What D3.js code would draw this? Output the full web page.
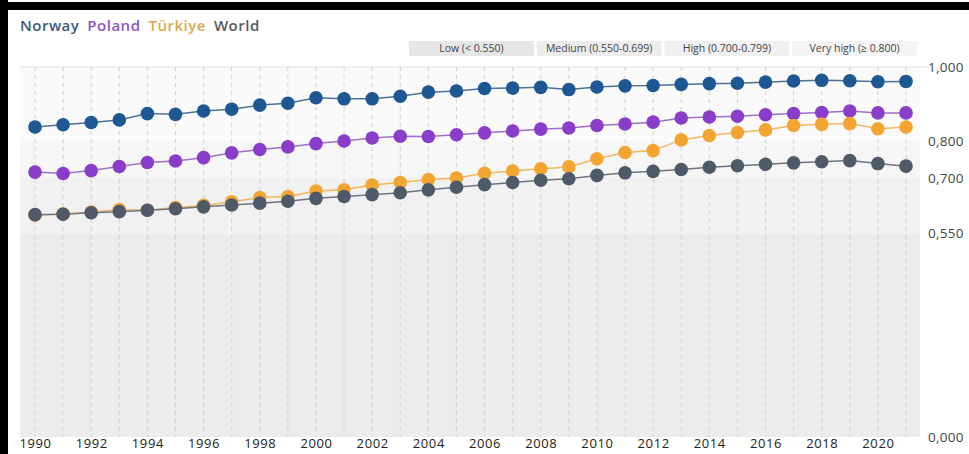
<!DOCTYPE html>
<html>
<head>
<meta charset="utf-8">
<script src="https://cdn.jsdelivr.net/npm/d3@7"></script>
<style>
  body { margin: 0; background: #fff; }
  svg { display: block; font-family: 'Open Sans', sans-serif; }
</style>
</head>
<body>
<div id="chart"></div>
<script>
const years = d3.range(1990, 2022);
const norway = [0.838, 0.844, 0.850, 0.857, 0.874, 0.872, 0.881, 0.886, 0.897, 0.902, 0.917, 0.914, 0.914, 0.921, 0.932, 0.935,
  0.942, 0.943, 0.945, 0.939, 0.946, 0.949, 0.950, 0.953, 0.955, 0.956, 0.959, 0.962, 0.964, 0.963, 0.960, 0.961];
const poland = [0.716, 0.712, 0.720, 0.731, 0.742, 0.746, 0.755, 0.768, 0.777, 0.784, 0.793, 0.800, 0.808, 0.813, 0.812, 0.817,
  0.822, 0.827, 0.832, 0.835, 0.842, 0.846, 0.851, 0.862, 0.865, 0.867, 0.871, 0.874, 0.877, 0.881, 0.876, 0.876];
const turkiye = [0.600, 0.603, 0.608, 0.615, 0.613, 0.620, 0.626, 0.636, 0.647, 0.650, 0.665, 0.668, 0.681, 0.688, 0.696, 0.700,
  0.713, 0.719, 0.725, 0.730, 0.752, 0.769, 0.774, 0.803, 0.815, 0.823, 0.830, 0.842, 0.845, 0.847, 0.833, 0.838];
const world = [0.601, 0.602, 0.606, 0.609, 0.613, 0.617, 0.622, 0.627, 0.632, 0.637, 0.645, 0.650, 0.655, 0.660, 0.668, 0.675,
  0.682, 0.688, 0.694, 0.698, 0.707, 0.714, 0.718, 0.723, 0.729, 0.733, 0.737, 0.741, 0.744, 0.747, 0.739, 0.732];

const seriesNames = ['Norway', 'Poland', 'Türkiye', 'World'];
const seriesValues = [norway, poland, turkiye, world];
const dotColors = ['#1d5895', '#8a3dc8', '#f2a531', '#4f5a68'];
const lineColors = ['#4d7198', '#a070c8', '#f0b660', '#6c7480'];
const legendColors = ['#3e5b7e', '#8d56bf', '#d9a94f', '#585858'];

const bandLabels = ['Low (< 0.550)', 'Medium (0.550-0.699)', 'High (0.700-0.799)', 'Very high (≥ 0.800)'];
const bandLimits = [0, 0.55, 0.7, 0.8, 1];
const bandFills = ['#ececed', '#f1f1f2', '#f6f6f7', '#fafafb'];
const bandBoxFills = ['#e6e6e6', '#ececec', '#f0f0f0', '#f4f4f4'];

const yTicks = [0, 0.55, 0.7, 0.8, 1];
const xTicks = d3.range(1990, 2021, 2);

const width = 969;
const height = 454;
const plotLeft = 20;
const plotRight = 920;

const x = d3.scaleLinear().domain([1990, 2021]).range([35, 906]);
const y = d3.scaleLinear().domain([0, 1]).range([437, 67]);

const svg = d3.select('#chart').append('svg')
  .attr('width', width)
  .attr('height', height);

// black frame from the screenshot
svg.append('rect').attr('x', 0).attr('y', 0).attr('width', 8).attr('height', height).attr('fill', '#000');
svg.append('rect').attr('x', 0).attr('y', 2).attr('width', width).attr('height', 8).attr('fill', '#000');

// legend
const legend = svg.append('text')
  .attr('x', 20)
  .attr('y', 31)
  .attr('font-size', 15)
  .attr('font-weight', 600)
  .attr('letter-spacing', 0.5);
seriesNames.forEach((n, i) => {
  legend.append('tspan')
    .attr('fill', legendColors[i])
    .attr('dx', i ? 8 : 0)
    .text(n);
});

// band label boxes
const boxX = d3.scaleLinear().domain([0, 4]).range([409, 920]);
const boxes = svg.append('g')
  .selectAll('g')
  .data(bandLabels)
  .join('g');
boxes.append('rect')
  .attr('x', (d, i) => boxX(i))
  .attr('y', 41)
  .attr('width', (d, i) => boxX(i + 1) - boxX(i) - 3)
  .attr('height', 15)
  .attr('fill', (d, i) => bandBoxFills[i]);
boxes.append('text')
  .attr('x', (d, i) => (boxX(i) + boxX(i + 1) - 3) / 2)
  .attr('y', 52)
  .attr('text-anchor', 'middle')
  .attr('font-size', 10.5)
  .attr('fill', '#444')
  .text((d) => d);

// background bands
svg.append('g')
  .selectAll('rect')
  .data(d3.range(4))
  .join('rect')
  .attr('x', plotLeft)
  .attr('width', plotRight - plotLeft)
  .attr('y', (i) => y(bandLimits[i + 1]))
  .attr('height', (i) => y(bandLimits[i]) - y(bandLimits[i + 1]))
  .attr('fill', (i) => bandFills[i]);

// top line
svg.append('line')
  .attr('x1', plotLeft).attr('x2', plotRight + 8)
  .attr('y1', y(1)).attr('y2', y(1))
  .attr('stroke', '#e0e0e0');

// vertical dashed grid
svg.append('g')
  .selectAll('line')
  .data(years)
  .join('line')
  .attr('x1', (d) => x(d)).attr('x2', (d) => x(d))
  .attr('y1', y(1)).attr('y2', y(0))
  .attr('stroke', '#c8c8c8')
  .attr('stroke-width', 0.8)
  .attr('stroke-dasharray', '4,4');

// x axis labels
svg.append('g')
  .attr('transform', `translate(0,${y(0)})`)
  .call(d3.axisBottom(x).tickValues(xTicks).tickFormat(d3.format('d')).tickSize(0).tickPadding(2))
  .call((g) => g.select('.domain').remove())
  .call((g) => g.selectAll('text')
    .attr('font-family', "'Open Sans', sans-serif")
    .attr('font-size', 13)
    .attr('letter-spacing', 0.6)
    .attr('fill', '#222'));

// y axis labels (right)
const fmt = (v) => d3.format('.3f')(v).replace('.', ',');
svg.append('g')
  .attr('transform', `translate(${plotRight + 8},0)`)
  .call(d3.axisRight(y).tickValues(yTicks).tickFormat(fmt).tickSize(0).tickPadding(0))
  .call((g) => g.select('.domain').remove())
  .call((g) => g.selectAll('text')
    .attr('font-family', "'Open Sans', sans-serif")
    .attr('font-size', 13.5)
    .attr('letter-spacing', 0.3)
    .attr('fill', '#444'));

// series
const line = d3.line()
  .x((d, i) => x(years[i]))
  .y((d) => y(d));

const series = svg.append('g')
  .selectAll('g')
  .data(seriesValues)
  .join('g');
series.append('path')
  .attr('d', (d) => line(d))
  .attr('fill', 'none')
  .attr('stroke', (d, i) => lineColors[i])
  .attr('stroke-width', 1.5);
series.each(function (vals, si) {
  d3.select(this).selectAll('circle')
    .data(vals)
    .join('circle')
    .attr('cx', (d, i) => x(years[i]))
    .attr('cy', (d) => y(d))
    .attr('r', 6.8)
    .attr('fill', dotColors[si]);
});
</script>
</body>
</html>
